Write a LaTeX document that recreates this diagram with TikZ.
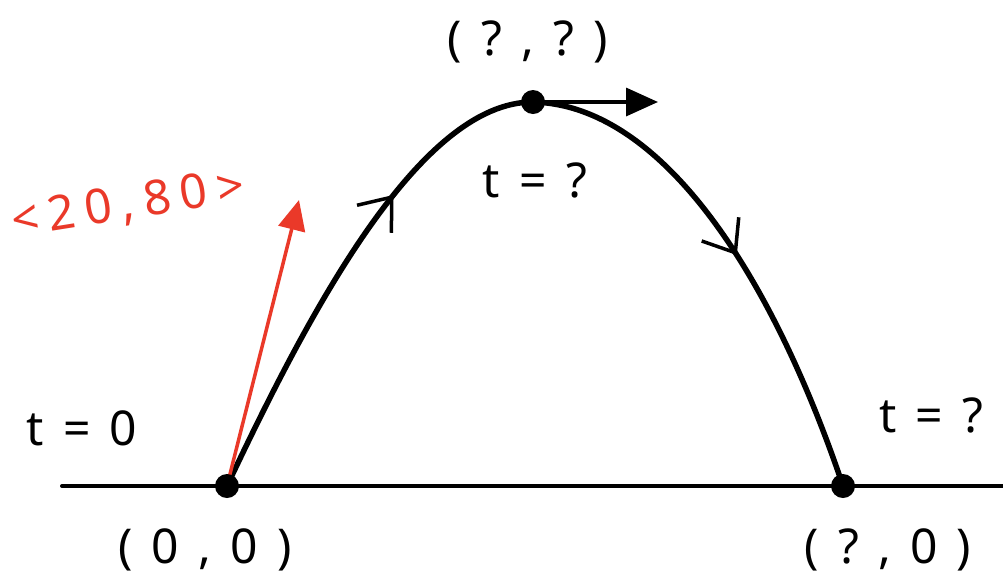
\documentclass[tikz,border=0pt]{standalone}
\usepackage{fontspec}
\setmainfont{Noto Sans}
\usetikzlibrary{arrows.meta,decorations.markings}
\definecolor{hred}{RGB}{234,57,41}
\newcommand\gp{\hspace{0.4em}}
\newcommand\rg{\hspace{0.2em}}
\begin{document}
\begin{tikzpicture}[x=1pt,y=-1pt,
  dotmark/.style={circle,fill=black,inner sep=0pt,minimum size=24pt},
  lbl/.style={font=\fontsize{48}{52}\selectfont,inner sep=0pt},
  curve/.style={line width=5.5pt,line cap=round},
  ground/.style={line width=4pt,line cap=round},
  barb/.style={postaction={decorate,decoration={markings,
     mark=at position #1 with {\arrow[line width=3.5pt]{Straight Barb[length=28pt,width=44pt]}}}}}]
\fill[white] (0,0) rectangle (1003,582);
\useasboundingbox (0,0) rectangle (1003,582);
% key points
\coordinate (O) at (227,486);
\coordinate (T) at (533,102);
\coordinate (E) at (843,486);
\coordinate (gL) at (62,486);
\coordinate (gR) at (1003,486);
\coordinate (vtip) at (299,200);
\coordinate (htip) at (658,102);
% ground
\draw[ground] (gL) -- (gR);
% trajectory
\draw[curve,barb=0.66] (O) .. controls (310,310) and (420,102) .. (T);
\draw[curve,barb=0.51] (T) .. controls (660,105) and (770,270) .. (E);
% initial velocity
\draw[hred,line width=3.5pt,-{Triangle[length=30pt,width=27pt]}] (O) -- (vtip);
% velocity at top
\draw[line width=3.5pt,-{Triangle[length=32pt,width=28pt]}] (T) -- (htip);
% dots
\node[dotmark] (Od) at (O) {};
\node[dotmark] (Td) at (T) {};
\node[dotmark] (Ed) at (E) {};
% labels
\node[lbl] (ltop) at (528,42) {(\gp?\gp,\gp?\gp)};
\node[lbl] (ttop) at (535,180) {t\gp=\gp?};
\node[lbl,text=hred,rotate=9] (vel) at (128,205) {<\rg2\rg0\rg,\rg8\rg0\rg>};
\node[lbl] (t0) at (82,428) {t\gp=\gp0};
\node[lbl] (tend) at (931,415) {t\gp=\gp?};
\node[lbl] (l00) at (205,550) {(\gp0\gp,\gp0\gp)};
\node[lbl] (lend) at (888,550) {(\gp?\gp,\gp0\gp)};
\end{tikzpicture}
\end{document}
